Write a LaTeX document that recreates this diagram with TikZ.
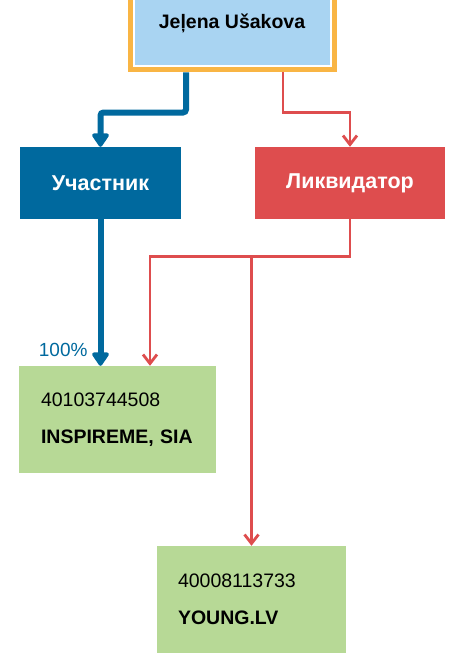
\documentclass[tikz,border=0pt]{standalone}
\usepackage{fontspec}
\setmainfont{Liberation Sans}
\usetikzlibrary{arrows.meta, positioning, fit}
\definecolor{skyfill}{RGB}{169,212,242}
\definecolor{framecol}{RGB}{249,181,68}
\definecolor{ownblue}{RGB}{0,105,158}
\definecolor{liqred}{RGB}{222,77,78}
\definecolor{firmgreen}{RGB}{183,217,150}

\begin{document}
\begin{tikzpicture}[x=1pt, y=-1pt,
    role/.style={text=white, font=\fontsize{21.5}{24}\selectfont\bfseries,
      minimum height=72pt, inner sep=0pt},
    firm/.style={fill=firmgreen, align=left, minimum height=107pt,
      inner xsep=22pt, font=\fontsize{19.5}{22}\selectfont},
    pct/.style={text=ownblue, inner sep=0pt, font=\fontsize{19}{22}\selectfont},
    own/.style={draw=ownblue, line width=6pt, rounded corners=3pt,
      -{Triangle[width=19pt, length=15pt, round]}},
    liq/.style={draw=liqred, line width=2.8pt,
      -{Straight Barb[width=14pt, length=9pt]}}]
  \useasboundingbox (0,0) rectangle (455,661);
  \clip (0,0) rectangle (455,661);
  % person
  \node[fill=skyfill, draw=white, line width=1pt, minimum width=196pt,
    minimum height=86pt, font=\fontsize{19.5}{22}\selectfont\bfseries]
    (person) at (232,23) {Jeļena Ušakova};
  \node[draw=framecol, line width=5pt, inner sep=3.5pt, fit=(person)] (frame) {};
  % roles
  \node[role, fill=ownblue, minimum width=161pt] (member) at (100.5,183) {Участник};
  \node[role, fill=liqred, minimum width=190pt] (liquid) at (350,183) {Ликвидатор};
  % companies
  \node[firm, text width=153pt] (inspire) at (117.5,419.5)
    {40103744508\\[15pt]\textbf{INSPIREME, SIA}};
  \node[firm, text width=147pt, inner xsep=21pt] (young) at (251.5,599.5)
    {40008113733\\[15pt]\textbf{YOUNG.LV}};
  % ownership
  \draw[own] ([xshift=-46pt]frame.south) -- ++(0,40) -| (member.north);
  \draw[own] (member.south) -- (member.south |- inspire.north)
    node[pct, pos=1, anchor=base east, xshift=-10pt, yshift=9pt] (share) {100\%};
  % liquidator
  \draw[liq] ([xshift=51pt]frame.south) -- ++(0,40) -| (liquid.north);
  \draw[liq] (liquid.south) -- ++(0,37) coordinate (split)
    -| ([xshift=32.5pt]inspire.north);
  \draw[liq] (split -| young.north) -- (young.north);
\end{tikzpicture}
\end{document}
